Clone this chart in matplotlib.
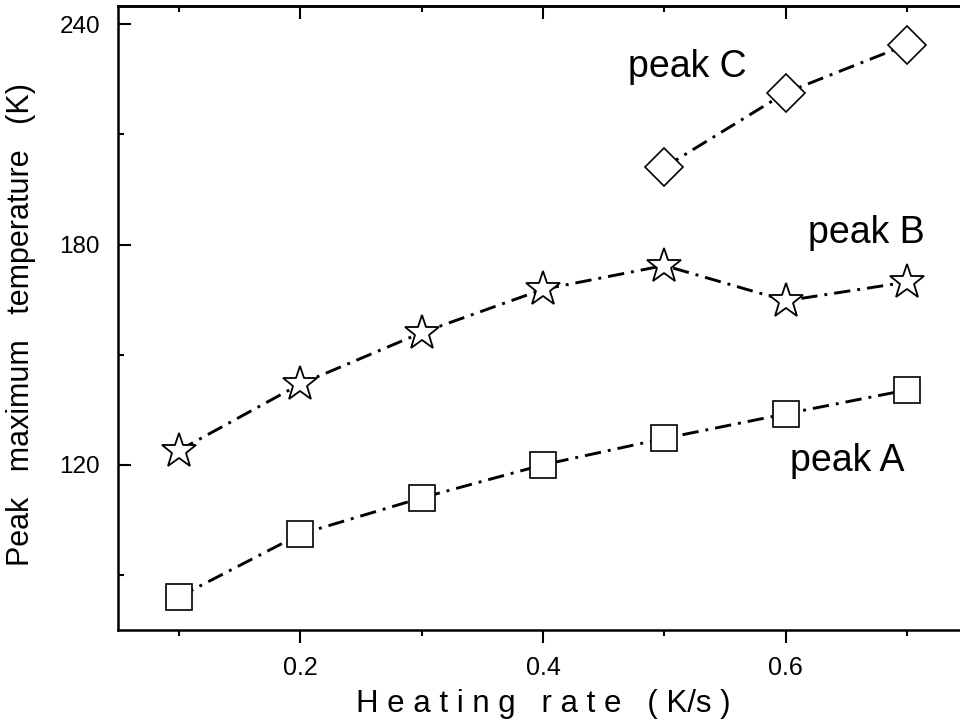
import matplotlib
matplotlib.use("Agg")
import matplotlib.pyplot as plt

plt.rcParams['font.family'] = ['Liberation Sans', 'DejaVu Sans']

# data
rate = [0.1, 0.2, 0.3, 0.4, 0.5, 0.6, 0.7]
peak_a = [84.0, 101.1, 111.0, 120.0, 127.2, 133.9, 140.4]
peak_b = [123.9, 142.0, 156.0, 167.8, 174.3, 164.7, 169.8]
rate_c = [0.5, 0.6, 0.7]
peak_c = [201.1, 221.4, 234.5]

labels = ["peak A", "peak B", "peak C"]
label_pos = [(0.6035, 118.2), (0.618, 180.3), (0.470, 225.7)]

xmajor = [0.2, 0.4, 0.6]
xminor = [0.1, 0.3, 0.5, 0.7]
ymajor = [120, 180, 240]
yminor = [90, 150, 210]

fig = plt.figure(figsize=(9.6, 7.24), dpi=100)
ax = fig.add_axes([118/960, (724-630)/724, 850/960, 624/724])

lw = 2.1
dash = (5.6, 2.4, 1.0, 2.4)
common = dict(color='black', lw=lw, dashes=dash, markerfacecolor='white',
              markeredgecolor='black', clip_on=False)
ax.plot(rate, peak_a, marker='s', ms=19, mew=1.2, **common)
ax.plot(rate, peak_b, marker='*', ms=26, mew=1.3, **common)
ax.plot(rate_c, peak_c, marker='D', ms=19, mew=1.2, **common)

for t, (x, y) in zip(labels, label_pos):
    ax.text(x, y, t, fontsize=27, ha='left', va='baseline')

ax.set_xlim(0.05, 0.75)
ax.set_ylim(75, 245)
ax.set_xticks(xmajor)
ax.set_xticks(xminor, minor=True)
ax.set_yticks(ymajor)
ax.set_yticks(yminor, minor=True)
ax.set_xticklabels([f"{v:.1f}" for v in xmajor])
ax.set_yticklabels([str(v) for v in ymajor])

for s in ax.spines.values():
    s.set_linewidth(1.8)

ax.tick_params(axis='x', which='both', direction='out', labelsize=18, width=1.5, pad=10)
ax.tick_params(axis='x', which='major', length=9)
ax.tick_params(axis='x', which='minor', length=4.5)
ax.tick_params(axis='y', which='both', direction='in', labelsize=17.5, width=1.5, pad=13,
               right=False)
ax.tick_params(axis='y', which='major', length=9)
ax.tick_params(axis='y', which='minor', length=4.5)

sec = ax.secondary_xaxis('top')
sec.set_xticks(xmajor)
sec.set_xticks(xminor, minor=True)
sec.tick_params(which='both', direction='in', labeltop=False, width=1.5)
sec.tick_params(which='major', length=9)
sec.tick_params(which='minor', length=4.5)
sec.spines['top'].set_linewidth(1.8)

ax.set_xlabel("H e a t i n g   r a t e   ( K/s )", fontsize=22.5, va='top')
ax.xaxis.set_label_coords(0.5, (630-689)/624)
ax.set_ylabel("Peak   maximum   temperature   (K)", fontsize=22, va='bottom')
ax.yaxis.set_label_coords((36-118)/850, 0.5 - 7/624)

fig.savefig("out.png", dpi=100)
